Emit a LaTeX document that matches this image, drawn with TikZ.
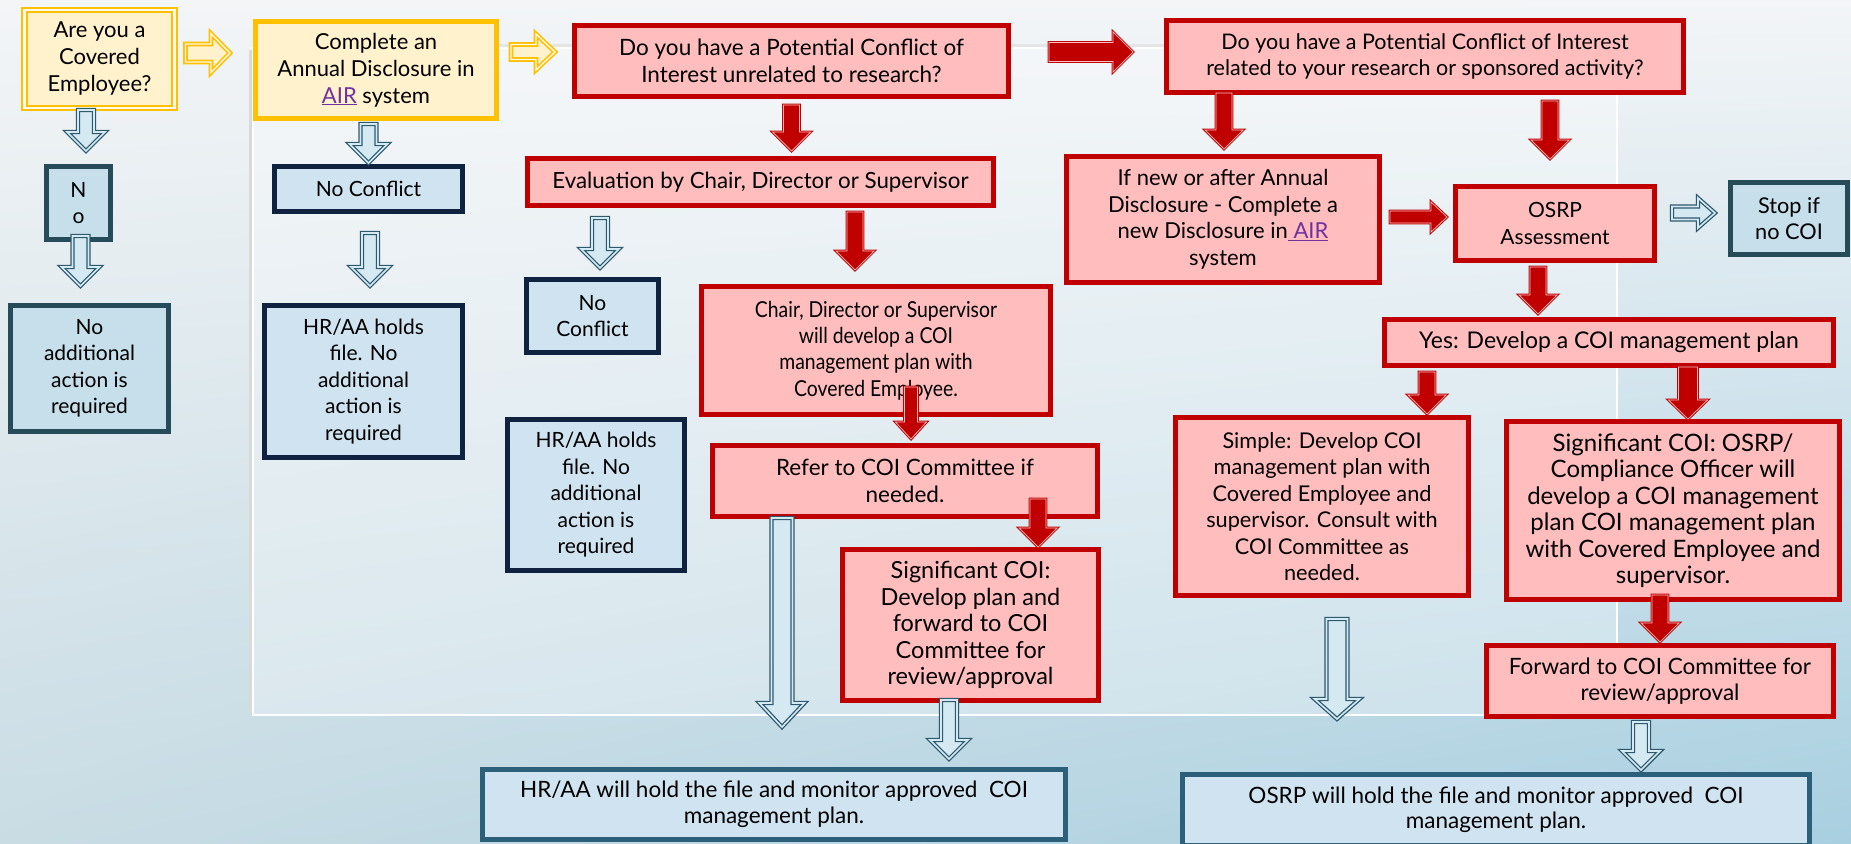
\documentclass[tikz,border=0pt]{standalone}
\usepackage{fontspec}
\setmainfont{Lato}
\newfontfamily\narrowfont{Lato}[FakeStretch=0.88]
\usetikzlibrary{calc,shadings}

% colours
\definecolor{yelfill}{HTML}{FFF2CC}
\definecolor{yelline}{HTML}{FFC000}
\definecolor{redfill}{HTML}{FFBDBD}
\definecolor{redline}{HTML}{C00000}
\definecolor{bluefill}{HTML}{CFE4F0}
\definecolor{tealfill}{HTML}{C6DFEA}
\definecolor{navyline}{HTML}{0F2240}
\definecolor{tealline}{HTML}{264B59}
\definecolor{holdline}{HTML}{2C5F7A}
\definecolor{arrowline}{HTML}{2E5A70}
\definecolor{arrowfill}{HTML}{D5E9F3}
\definecolor{airpurple}{HTML}{7030A0}
\definecolor{bgtop}{HTML}{F3F5F7}
\definecolor{bgbotleft}{HTML}{C9DCE4}
\definecolor{bgbotright}{HTML}{A8CFE0}

\tikzset{
  % sizes of the block arrows
  blkshaft/.store in=\blkshaft, blkhead/.store in=\blkhead, blklen/.store in=\blklen,
  blkshaft=8, blkhead=19, blklen=19,
  % block arrow going down (x of the start is kept)
  blockdown/.style={to path={let \p1=(\tikztostart), \p2=(\tikztotarget) in
      (\x1-\blkshaft,\y1) -- (\x1+\blkshaft,\y1) -- (\x1+\blkshaft,\y2+\blklen)
      -- (\x1+\blkhead,\y2+\blklen) -- (\x1,\y2) -- (\x1-\blkhead,\y2+\blklen)
      -- (\x1-\blkshaft,\y2+\blklen) -- cycle}},
  % block arrow going right (y of the start is kept)
  blockright/.style={to path={let \p1=(\tikztostart), \p2=(\tikztotarget) in
      (\x1,\y1-\blkshaft) -- (\x1,\y1+\blkshaft) -- (\x2-\blklen,\y1+\blkshaft)
      -- (\x2-\blklen,\y1+\blkhead) -- (\x2,\y1) -- (\x2-\blklen,\y1-\blkhead)
      -- (\x2-\blklen,\y1-\blkshaft) -- cycle}},
  yelarrow/.style={draw=yelline, fill=yelfill, line width=1.6pt, double=yelfill!50!white, double distance=1.4pt},
  bluearrow/.style={draw=arrowline, fill=arrowfill, line width=1.3pt, double=arrowfill, double distance=1.6pt},
  redarrow/.style={draw=redline, fill=redline, line width=1pt, double=redfill, double distance=0.7pt},
  % boxes
  txtsize/.style={font=\fontsize{#1}{26.5}\selectfont},
  box/.style={rectangle, align=center, inner sep=0pt, line width=5pt},
  yelbox/.style={box, draw=yelline, fill=yelfill, font=\fontsize{22}{27}\selectfont},
  redbox/.style={box, draw=redline, fill=redfill, txtsize=22.5},
  navybox/.style={box, draw=navyline, fill=bluefill, font=\fontsize{21}{26.5}\selectfont},
  tealbox/.style={box, draw=tealline, fill=tealfill, font=\fontsize{21}{26.5}\selectfont},
  holdbox/.style={box, draw=holdline, fill=bluefill, font=\fontsize{22.5}{25.5}\selectfont},
}

\begin{document}
\begin{tikzpicture}[x=1pt, y=-1pt]

% Background and panel
\useasboundingbox (0,0) rectangle (1851,843);
\shade[upper left=bgtop, upper right=bgtop, lower left=bgbotleft, lower right=bgbotright] (0,0) rectangle (1851,843);
\draw[black!15, line width=3pt] (250,50) -- (250,713);
\draw[black!10, line width=3pt] (253,46) -- (1617,46);
\draw[white, line width=1.5pt, fill=white, fill opacity=0.3] (253,48) rectangle (1617,715);

% Left column
\node[yelbox, line width=2pt, double=yelfill!40!white, double distance=2.5pt, minimum width=150pt, minimum height=98pt] (cov) at (99.5,59) {Are you a\\Covered\\Employee?};
\node[tealbox, minimum width=64pt, minimum height=73pt] (nob) at (78.5,203) {N\\o};
\node[tealbox, minimum width=158pt, minimum height=126pt] (noadd) at (89.5,368.5) {No\\additional\\action is\\required};

% Annual disclosure column
\node[yelbox, minimum width=241pt, minimum height=97pt] (annual) at (376,70) {Complete an\\Annual Disclosure in\\\textcolor{airpurple}{\underline{AIR}} system};
\node[navybox, minimum width=188pt, minimum height=45pt] (nc1) at (368.5,189) {No Conflict};
\node[navybox, minimum width=198pt, minimum height=152pt] (hr1) at (363.5,381.5) {HR/AA holds\\file. No\\additional\\action is\\required};

% Unrelated to research
\node[redbox, minimum width=434pt, minimum height=71pt] (unrel) at (791.5,61) {Do you have a Potential Conflict of\\Interest unrelated to research?};
\node[redbox, txtsize=22.3, minimum width=466pt, minimum height=47pt] (evalb) at (760.5,182) {Evaluation by Chair, Director or Supervisor};
\node[navybox, minimum width=132pt, minimum height=73pt] (nc2) at (592.5,316) {No\\Conflict};
\node[navybox, minimum width=177pt, minimum height=151pt] (hr2) at (596,495) {HR/AA holds\\file. No\\additional\\action is\\required};
\node[redbox, font=\narrowfont\fontsize{22}{26.3}\selectfont, minimum width=349pt, minimum height=128pt] (chair) at (876,350.5) {Chair, Director or Supervisor\\will develop a COI\\management plan with\\Covered Employee.};
\node[redbox, minimum width=385pt, minimum height=71pt] (refer) at (905,481) {Refer to COI Committee if\\needed.};
\node[redbox, txtsize=23.5, minimum width=256pt, minimum height=151pt] (sig1) at (970.5,625) {Significant COI:\\Develop plan and\\forward to COI\\Committee for\\review/approval};
\node[holdbox, minimum width=583pt, minimum height=70pt] (hrhold) at (774,804.5) {HR/AA will hold the file and monitor approved\ \ COI\\management plan.};

% Related to research
\node[redbox, txtsize=21.5, minimum width=517pt, minimum height=72pt] (rel) at (1425,56.5) {Do you have a Potential Conflict of Interest\\related to your research or sponsored activity?};
\node[redbox, txtsize=22, minimum width=313pt, minimum height=126pt] (ifnew) at (1223,219.5) {If new or after Annual\\Disclosure - Complete a\\new Disclosure in\textcolor{airpurple}{\underline{\ AIR}}\\system};
\node[redbox, txtsize=21, minimum width=199pt, minimum height=74pt] (osrp) at (1555,223.5) {OSRP\\Assessment};
\node[tealbox, txtsize=21.7, minimum width=117pt, minimum height=72pt] (stop) at (1789,218.5) {Stop if\\no COI};
\node[redbox, txtsize=23, minimum width=449pt, minimum height=46pt] (yes) at (1609,342.5) {Yes: Develop a COI management plan};
\node[redbox, txtsize=21.7, minimum width=293pt, minimum height=178pt] (simple) at (1322,506.5) {Simple: Develop COI\\management plan with\\Covered Employee and\\supervisor. Consult with\\COI Committee as\\needed.};
\node[redbox, txtsize=24, minimum width=333pt, minimum height=178pt] (sig2) at (1673,510.5) {Significant COI: OSRP/\\Compliance Officer will\\develop a COI management\\plan COI management plan\\with Covered Employee and\\supervisor.};
\node[redbox, minimum width=347pt, minimum height=71pt] (fwd) at (1660,681) {Forward to COI Committee for\\review/approval};
\node[holdbox, minimum width=627pt, minimum height=71pt] (osrphold) at (1496,810) {OSRP will hold the file and monitor approved\ \ COI\\management plan.};

% Arrows to the right
\draw[yelarrow, blkshaft=9, blkhead=19.5] ($(cov.east)+(10,-6)$) to[blockright] ($(annual.west)+(-23,0)$);
\draw[yelarrow, blkshaft=7.5, blkhead=18] ($(annual.east)+(12,-18)$) to[blockright] ($(unrel.west)+(-17,0)$);
\draw[redarrow, blkshaft=9.5, blkhead=20, blklen=20] ($(unrel.east)+(38,-9)$) to[blockright] ($(rel.west)+(-31,0)$);
\draw[redarrow, blkshaft=6, blkhead=15, blklen=16] ($(ifnew.east)+(8,-2.5)$) to[blockright] ($(osrp.west)+(-6,0)$);
\draw[bluearrow, blkshaft=6.5, blkhead=15, blklen=17] ($(osrp.east)+(15,-10.5)$) to[blockright] ($(stop.west)+(-13,0)$);

% Blue arrows down
\foreach \src/\dst/\dx/\sy/\ey in {cov/nob/-13.5/1/-13, nob/noadd/2/-6/-17, annual/nc1/-7.5/3/-1,
    nc1/hr1/1.5/19/-17, evalb/nc2/-160.5/10/-9, sig1/hrhold/-21.5/-3/-8, fwd/osrphold/-19/3/-2}
  \draw[bluearrow] ($(\src.south)+(\dx,\sy)$) to[blockdown] ($(\dst.north)+(0,\ey)$);
\draw[bluearrow, blkshaft=10.5, blkhead=22.5, blklen=24] ($(refer.south)+(-123,-1)$) to[blockdown] ($(hrhold.north)+(0,-40)$);
\draw[bluearrow, blkshaft=10.5, blkhead=22.5, blklen=20] ($(simple.south)+(15,21)$) to[blockdown] ($(osrphold.north)+(0,-53)$);

% Red arrows down
\foreach \src/\dst/\dx/\sy/\ey in {unrel/evalb/0/6/-5, evalb/chair/94.5/4/-14, rel/ifnew/-201/-2/-5,
    rel/osrp/125/6/-25, osrp/yes/-17/4/-3, refer/sig1/133/-20/0, yes/simple/-182/4/-1, sig2/fwd/-13/-7/-1}
  \draw[redarrow] ($(\src.south)+(\dx,\sy)$) to[blockdown] ($(\dst.north)+(0,\ey)$);
\draw[redarrow, blkshaft=6.5, blkhead=15.5, blklen=17] ($(chair.south)+(35,-30)$) to[blockdown] ($(refer.north)+(0,-4)$);
\draw[redarrow, blkshaft=9.5, blkhead=19.5] ($(yes.south)+(79,-1)$) to[blockdown] ($(sig2.north)+(0,0)$);

\end{tikzpicture}
\end{document}
